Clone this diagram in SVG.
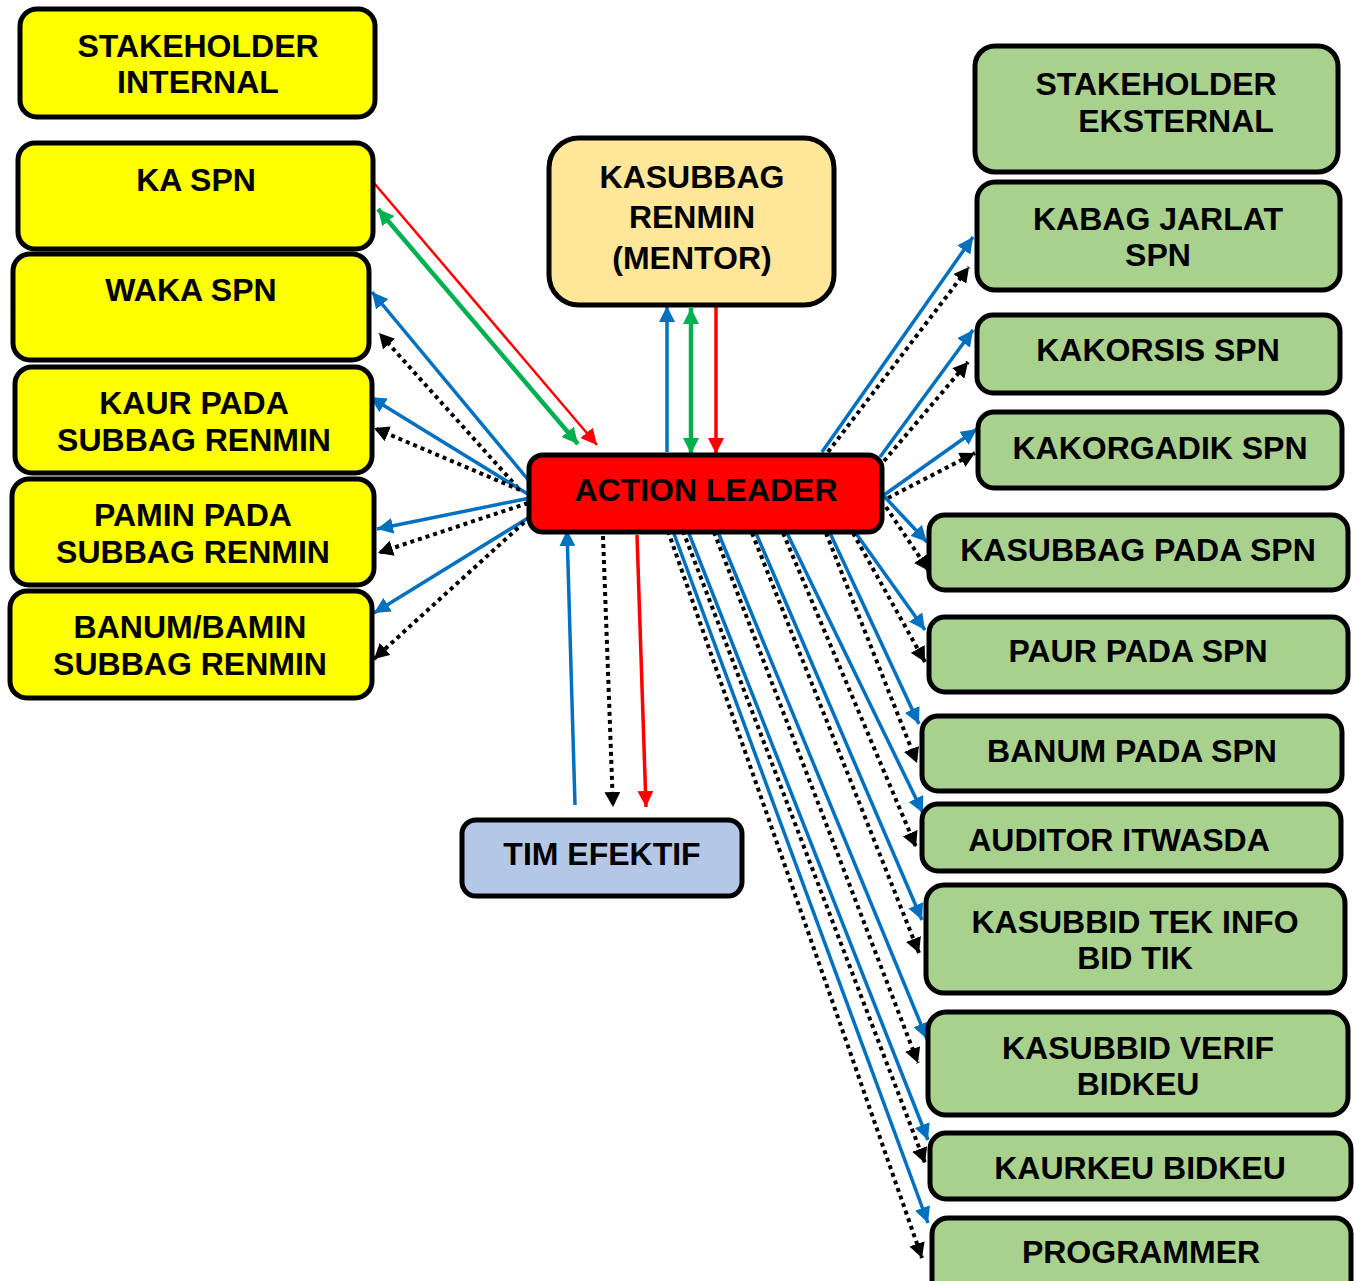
<svg xmlns="http://www.w3.org/2000/svg" width="1354" height="1281" viewBox="0 0 1354 1281">
  <style>
    .box { stroke: #000; stroke-width: 5; }
    .yel { fill: #FFFF00; }
    .grn { fill: #A9D18E; }
    .men { fill: #FFE699; }
    .red { fill: #FF0000; }
    .tim { fill: #B4C7E7; }
    text { font-family: "Liberation Sans", Arial, sans-serif; font-weight: bold; font-size: 32px; fill: #000; text-anchor: middle; }
    .c-blue { stroke: #0070C0; stroke-width: 3.5; fill: none; marker-end: url(#ah-blue); }
    .c-dot { stroke: #000; stroke-width: 4; stroke-dasharray: 4 4; fill: none; marker-end: url(#ah-black); }
    .c-red { stroke: #FF0000; stroke-width: 3.5; fill: none; marker-end: url(#ah-red); }
    .c-red-thin { stroke: #FF0000; stroke-width: 2.5; fill: none; marker-end: url(#ah-red); }
    .c-green { stroke: #00B050; stroke-width: 4.5; fill: none; marker-start: url(#ah-green); marker-end: url(#ah-green); }
  </style>
  <defs>
    <marker id="ah-blue" markerUnits="userSpaceOnUse" markerWidth="17" markerHeight="16" refX="16" refY="8" orient="auto">
      <path d="M0,0 L16,8 L0,16 z" fill="#0070C0"/>
    </marker>
    <marker id="ah-black" markerUnits="userSpaceOnUse" markerWidth="16" markerHeight="16" refX="15" refY="8" orient="auto">
      <path d="M0,0 L15,8 L0,16 z" fill="#000"/>
    </marker>
    <marker id="ah-red" markerUnits="userSpaceOnUse" markerWidth="17" markerHeight="16" refX="16" refY="8" orient="auto">
      <path d="M0,0 L16,8 L0,16 z" fill="#FF0000"/>
    </marker>
    <marker id="ah-green" markerUnits="userSpaceOnUse" markerWidth="17" markerHeight="16" refX="16" refY="8" orient="auto-start-reverse">
      <path d="M0,0 L16,8 L0,16 z" fill="#00B050"/>
    </marker>
  </defs>

  <rect width="1354" height="1281" fill="#fff"/>

  <!-- connectors -->
  <g id="connectors">
    <!-- KA SPN link -->
    <line class="c-red-thin" x1="374" y1="183" x2="597" y2="445"/>
    <line class="c-green" x1="378" y1="209" x2="578" y2="444"/>
    <!-- action leader to internal stakeholders -->
    <line class="c-blue" x1="530" y1="482" x2="372" y2="292"/>
    <line class="c-dot" x1="518" y1="488" x2="379" y2="333"/>
    <line class="c-blue" x1="531" y1="496" x2="370" y2="397"/>
    <line class="c-dot" x1="520" y1="490" x2="374" y2="428"/>
    <line class="c-blue" x1="535" y1="497" x2="377" y2="529"/>
    <line class="c-dot" x1="528" y1="503" x2="378" y2="553"/>
    <line class="c-blue" x1="533" y1="515" x2="374" y2="613"/>
    <line class="c-dot" x1="530" y1="517" x2="374" y2="659"/>
    <!-- mentor links -->
    <line class="c-blue" x1="667" y1="452" x2="667" y2="306"/>
    <line class="c-green" x1="691" y1="308" x2="691" y2="454"/>
    <line class="c-red" x1="716" y1="306" x2="716" y2="454"/>
    <!-- tim efektif links -->
    <line class="c-blue" x1="575" y1="805" x2="567" y2="530"/>
    <line class="c-dot" x1="603" y1="536" x2="613" y2="807"/>
    <line class="c-red" x1="637" y1="535" x2="646" y2="807"/>
    <!-- action leader to external stakeholders -->
    <line class="c-blue" x1="822" y1="452" x2="973" y2="237"/>
    <line class="c-dot" x1="828" y1="452" x2="969" y2="267"/>
    <line class="c-blue" x1="880" y1="457" x2="973" y2="330"/>
    <line class="c-dot" x1="884" y1="461" x2="968" y2="362"/>
    <line class="c-blue" x1="884" y1="495" x2="977" y2="429"/>
    <line class="c-dot" x1="888" y1="498" x2="975" y2="453"/>
    <line class="c-blue" x1="882" y1="494" x2="927" y2="542"/>
    <line class="c-dot" x1="886" y1="507" x2="929" y2="571"/>
    <line class="c-blue" x1="850" y1="525" x2="925" y2="630"/>
    <line class="c-dot" x1="853" y1="533" x2="925" y2="662"/>
    <line class="c-blue" x1="830" y1="533" x2="919" y2="724"/>
    <line class="c-dot" x1="826" y1="533" x2="917" y2="763"/>
    <line class="c-blue" x1="787" y1="533" x2="923" y2="813"/>
    <line class="c-dot" x1="783" y1="533" x2="916" y2="847"/>
    <line class="c-blue" x1="756" y1="533" x2="922" y2="920"/>
    <line class="c-dot" x1="752" y1="533" x2="919" y2="953"/>
    <line class="c-blue" x1="718" y1="532" x2="927" y2="1039"/>
    <line class="c-dot" x1="714" y1="532" x2="918" y2="1063"/>
    <line class="c-blue" x1="688" y1="531" x2="928" y2="1140"/>
    <line class="c-dot" x1="683" y1="531" x2="925" y2="1163"/>
    <line class="c-blue" x1="673" y1="531" x2="928" y2="1223"/>
    <line class="c-dot" x1="668" y1="531" x2="922" y2="1258"/>
  </g>

  <!-- internal stakeholders -->
  <g id="stakeholder-internal">
    <rect class="box yel" x="20" y="9" width="355" height="108" rx="17"/>
    <text x="198" y="57">STAKEHOLDER</text>
    <text x="198" y="93">INTERNAL</text>
  </g>
  <g id="ka-spn">
    <rect class="box yel" x="18" y="143" width="355" height="106" rx="17"/>
    <text x="196" y="191">KA SPN</text>
  </g>
  <g id="waka-spn">
    <rect class="box yel" x="13" y="254" width="356" height="106" rx="17"/>
    <text x="191" y="301">WAKA SPN</text>
  </g>
  <g id="kaur-renmin">
    <rect class="box yel" x="15" y="367" width="357" height="106" rx="17"/>
    <text x="194" y="414">KAUR PADA</text>
    <text x="194" y="451">SUBBAG RENMIN</text>
  </g>
  <g id="pamin-renmin">
    <rect class="box yel" x="12" y="479" width="362" height="106" rx="17"/>
    <text x="193" y="526">PAMIN PADA</text>
    <text x="193" y="563">SUBBAG RENMIN</text>
  </g>
  <g id="banum-renmin">
    <rect class="box yel" x="10" y="591" width="362" height="107" rx="17"/>
    <text x="190" y="638">BANUM/BAMIN</text>
    <text x="190" y="675">SUBBAG RENMIN</text>
  </g>

  <!-- center -->
  <g id="mentor">
    <rect class="box men" x="549" y="138" width="285" height="167" rx="30"/>
    <text x="692" y="188">KASUBBAG</text>
    <text x="692" y="228">RENMIN</text>
    <text x="692" y="269">(MENTOR)</text>
  </g>
  <g id="action-leader">
    <rect class="box red" x="529" y="455" width="353" height="77" rx="14"/>
    <text x="706" y="501">ACTION LEADER</text>
  </g>
  <g id="tim-efektif">
    <rect class="box tim" x="462" y="820" width="280" height="76" rx="14"/>
    <text x="602" y="865">TIM EFEKTIF</text>
  </g>

  <!-- external stakeholders -->
  <g id="stakeholder-eksternal">
    <rect class="box grn" x="975" y="46" width="363" height="126" rx="20"/>
    <text x="1156" y="95">STAKEHOLDER</text>
    <text x="1176" y="132">EKSTERNAL</text>
  </g>
  <g id="kabag-jarlat">
    <rect class="box grn" x="977" y="182" width="363" height="108" rx="18"/>
    <text x="1158" y="230">KABAG JARLAT</text>
    <text x="1158" y="266">SPN</text>
  </g>
  <g id="kakorsis">
    <rect class="box grn" x="977" y="315" width="363" height="78" rx="16"/>
    <text x="1158" y="361">KAKORSIS SPN</text>
  </g>
  <g id="kakorgadik">
    <rect class="box grn" x="978" y="412" width="364" height="76" rx="16"/>
    <text x="1160" y="459">KAKORGADIK SPN</text>
  </g>
  <g id="kasubbag-spn">
    <rect class="box grn" x="929" y="515" width="419" height="75" rx="16"/>
    <text x="1138" y="561">KASUBBAG PADA SPN</text>
  </g>
  <g id="paur-spn">
    <rect class="box grn" x="929" y="617" width="419" height="75" rx="16"/>
    <text x="1138" y="662">PAUR PADA SPN</text>
  </g>
  <g id="banum-spn">
    <rect class="box grn" x="922" y="716" width="420" height="75" rx="16"/>
    <text x="1132" y="762">BANUM PADA SPN</text>
  </g>
  <g id="auditor">
    <rect class="box grn" x="922" y="804" width="419" height="67" rx="16"/>
    <text x="1119" y="851">AUDITOR ITWASDA</text>
  </g>
  <g id="kasubbid-tekinfo">
    <rect class="box grn" x="926" y="885" width="419" height="108" rx="18"/>
    <text x="1135" y="933">KASUBBID TEK INFO</text>
    <text x="1135" y="969">BID TIK</text>
  </g>
  <g id="kasubbid-verif">
    <rect class="box grn" x="928" y="1012" width="420" height="103" rx="18"/>
    <text x="1138" y="1059">KASUBBID VERIF</text>
    <text x="1138" y="1095">BIDKEU</text>
  </g>
  <g id="kaurkeu">
    <rect class="box grn" x="930" y="1133" width="421" height="66" rx="16"/>
    <text x="1140" y="1179">KAURKEU BIDKEU</text>
  </g>
  <g id="programmer">
    <rect class="box grn" x="932" y="1218" width="419" height="80" rx="16"/>
    <text x="1141" y="1263">PROGRAMMER</text>
  </g>
</svg>
